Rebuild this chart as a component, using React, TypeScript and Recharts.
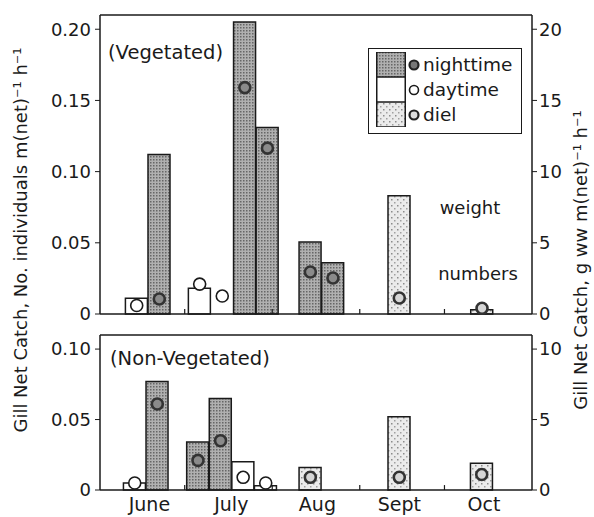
import { Bar, Cell, ComposedChart, Legend, ReferenceLine, Scatter, XAxis, YAxis } from 'recharts';

// x axis runs in days from 1 June to 1 November
const monthNames = ['June', 'July', 'Aug', 'Sept', 'Oct'];
const monthLabelDays = [17.5, 46.5, 77, 106, 136];
const monthStartDays = [30, 61, 92, 122];

const vegDays = [13, 21, 35.3, 43.3, 51.3, 59.3, 74.5, 82.5, 106, 135.3];
const vegTypes = ['day', 'night', 'day', 'day', 'night', 'night', 'night', 'night', 'diel', 'diel'];
const vegWeight = [1.1, 11.2, 1.8, 0, 20.5, 13.1, 5.05, 3.6, 8.3, 0.3];
const vegNumbers = [0.006, 0.0105, 0.021, 0.0126, 0.159, 0.1165, 0.0295, 0.0253, 0.0112, 0.004];

const nonVegDays = [12.3, 20.3, 34.7, 42.7, 50.7, 58.7, 74.5, 106, 135.2];
const nonVegTypes = ['day', 'night', 'night', 'night', 'day', 'day', 'diel', 'diel', 'diel'];
const nonVegWeight = [0.5, 7.7, 3.4, 6.5, 2.0, 0.3, 1.6, 5.2, 1.9];
const nonVegNumbers = [0.005, 0.061, 0.021, 0.035, 0.009, 0.005, 0.009, 0.009, 0.011];

const vegLeftTicks = [0, 0.05, 0.1, 0.15, 0.2];
const vegRightTicks = [0, 5, 10, 15, 20];
const nonVegLeftTicks = [0, 0.05, 0.1];
const nonVegRightTicks = [0, 5, 10];

const legendItems = [
    { type: 'night', label: 'nighttime' },
    { type: 'day', label: 'daytime' },
    { type: 'diel', label: 'diel' },
];

const ink = '#1a1a1a';

function buildRows(days: number[], types: string[], weight: number[], numbers: number[]) {
    return days.map((day, i) => ({ day, type: types[i], weight: weight[i], numbers: numbers[i] }));
}

const vegData = buildRows(vegDays, vegTypes, vegWeight, vegNumbers);
const nonVegData = buildRows(nonVegDays, nonVegTypes, nonVegWeight, nonVegNumbers);

function barFill(type: string) {
    if (type === 'night') return 'url(#nightDots)';
    if (type === 'diel') return 'url(#dielDots)';
    return '#ffffff';
}

function Dot(props: any) {
    const { cx, cy, payload } = props;
    if (cx == null || cy == null) return null;
    if (payload.type === 'day') {
        return <circle cx={cx} cy={cy} r={6} fill="#fff" stroke={ink} strokeWidth={1.6} />;
    }
    const fill = payload.type === 'night' ? '#8a8a8a' : '#d6d6d6';
    return <circle cx={cx} cy={cy} r={5.5} fill={fill} stroke="#333" strokeWidth={2.6} />;
}

function LegendDot({ type }: { type: string }) {
    if (type === 'day') return <circle cx={8} cy={13} r={4.5} fill="#fff" stroke={ink} strokeWidth={1.6} />;
    const fill = type === 'night' ? '#777' : '#ddd';
    return <circle cx={8} cy={13} r={4.5} fill={fill} stroke="#222" strokeWidth={2.2} />;
}

function Patterns() {
    return (
        <defs>
            <pattern id="nightDots" width="3" height="3" patternUnits="userSpaceOnUse">
                <rect width="3" height="3" fill="#b0b0b0" />
                <rect width="1.5" height="1.5" fill="#666666" />
            </pattern>
            <pattern id="dielDots" width="6" height="6" patternUnits="userSpaceOnUse">
                <rect width="6" height="6" fill="#ebebeb" />
                <rect x="1" y="1" width="1.5" height="1.5" fill="#8c8c8c" />
                <rect x="4" y="4" width="1.5" height="1.5" fill="#a0a0a0" />
            </pattern>
        </defs>
    );
}

function LegendBox() {
    return (
        <div
            style={{
                width: 154,
                height: 86,
                boxSizing: 'border-box',
                border: `1.5px solid ${ink}`,
                background: '#fff',
                padding: '3px 0 0 7px',
            }}
        >
            {legendItems.map((item) => (
                <div key={item.type} style={{ display: 'flex', alignItems: 'center', height: 25 }}>
                    <svg width={30} height={25} style={{ display: 'block' }}>
                        <rect x={0.75} y={0} width={28.5} height={25} fill={barFill(item.type)} stroke={ink} strokeWidth={1.5} />
                    </svg>
                    <svg width={16} height={25} style={{ display: 'block' }}>
                        <LegendDot type={item.type} />
                    </svg>
                    <span style={{ fontSize: 18.5, marginLeft: 1, lineHeight: '25px' }}>{item.label}</span>
                </div>
            ))}
        </div>
    );
}

function monthLabel(value: number) {
    const i = monthLabelDays.indexOf(value);
    return i >= 0 ? monthNames[i] : '';
}

const tickStyle = { fill: ink, fontSize: 18 };

export default function App() {
    return (
        <div
            style={{
                position: 'absolute',
                left: 0,
                top: 0,
                width: 594,
                height: 517,
                background: '#fff',
                fontFamily: '"DejaVu Sans", sans-serif',
                color: ink,
                overflow: 'hidden',
            }}
        >
            <div style={{ position: 'absolute', left: 0, top: 0 }}>
                <ComposedChart width={594} height={332} data={vegData} margin={{ top: 15, right: 0, bottom: 12, left: 0 }}>
                    <Patterns />
                    <XAxis
                        dataKey="day"
                        type="number"
                        domain={[0, 153]}
                        ticks={monthLabelDays}
                        tick={false}
                        tickLine={false}
                        height={6}
                        axisLine={{ stroke: ink, strokeWidth: 1.5 }}
                    />
                    <YAxis
                        yAxisId="left"
                        domain={[0, 0.21]}
                        ticks={vegLeftTicks}
                        interval={0}
                        tickFormatter={(v) => (v === 0 ? '0' : v.toFixed(2))}
                        width={100}
                        tickSize={5}
                        tickMargin={4}
                        tick={tickStyle}
                        axisLine={{ stroke: ink, strokeWidth: 1.5 }}
                        tickLine={{ stroke: ink }}
                    />
                    <YAxis
                        yAxisId="right"
                        orientation="right"
                        domain={[0, 21]}
                        ticks={vegRightTicks}
                        interval={0}
                        width={62}
                        tickSize={5}
                        tickMargin={2}
                        tick={tickStyle}
                        axisLine={{ stroke: ink, strokeWidth: 1.5 }}
                        tickLine={{ stroke: ink }}
                    />
                    <ReferenceLine yAxisId="left" y={0.21} stroke={ink} strokeWidth={1.5} />
                    {monthStartDays.map((d) => (
                        <ReferenceLine key={d} yAxisId="left" segment={[{ x: d, y: 0 }, { x: d, y: 0.0035 }]} stroke={ink} strokeWidth={1.2} />
                    ))}
                    <Bar yAxisId="right" dataKey="weight" barSize={22} stroke={ink} strokeWidth={1.5} isAnimationActive={false}>
                        {vegData.map((row, i) => (
                            <Cell key={i} fill={barFill(row.type)} />
                        ))}
                    </Bar>
                    <Scatter yAxisId="left" data={vegData} dataKey="numbers" shape={Dot} isAnimationActive={false} />
                    <Legend
                        layout="horizontal"
                        verticalAlign="middle"
                        align="center"
                        content={() => <LegendBox />}
                        wrapperStyle={{ left: 368, top: 48, width: 154, height: 86 }}
                    />
                </ComposedChart>
            </div>

            <div style={{ position: 'absolute', left: 0, top: 320 }}>
                <ComposedChart width={594} height={197} data={nonVegData} margin={{ top: 15, right: 0, bottom: 0, left: 0 }}>
                    <XAxis
                        dataKey="day"
                        type="number"
                        domain={[0, 153]}
                        ticks={monthLabelDays}
                        interval={0}
                        tickFormatter={monthLabel}
                        tickLine={false}
                        tick={{ fill: ink, fontSize: 19 }}
                        height={27}
                        axisLine={{ stroke: ink, strokeWidth: 1.5 }}
                    />
                    <YAxis
                        yAxisId="left"
                        domain={[0, 0.11]}
                        ticks={nonVegLeftTicks}
                        interval={0}
                        tickFormatter={(v) => (v === 0 ? '0' : v.toFixed(2))}
                        width={100}
                        tickSize={5}
                        tickMargin={4}
                        tick={tickStyle}
                        axisLine={{ stroke: ink, strokeWidth: 1.5 }}
                        tickLine={{ stroke: ink }}
                    />
                    <YAxis
                        yAxisId="right"
                        orientation="right"
                        domain={[0, 11]}
                        ticks={nonVegRightTicks}
                        interval={0}
                        width={62}
                        tickSize={5}
                        tickMargin={2}
                        tick={tickStyle}
                        axisLine={{ stroke: ink, strokeWidth: 1.5 }}
                        tickLine={{ stroke: ink }}
                    />
                    <ReferenceLine yAxisId="left" y={0.11} stroke={ink} strokeWidth={1.5} />
                    {monthStartDays.map((d) => (
                        <ReferenceLine key={d} yAxisId="left" segment={[{ x: d, y: 0 }, { x: d, y: 0.0035 }]} stroke={ink} strokeWidth={1.2} />
                    ))}
                    <Bar yAxisId="right" dataKey="weight" barSize={22} stroke={ink} strokeWidth={1.5} isAnimationActive={false}>
                        {nonVegData.map((row, i) => (
                            <Cell key={i} fill={barFill(row.type)} />
                        ))}
                    </Bar>
                    <Scatter yAxisId="left" data={nonVegData} dataKey="numbers" shape={Dot} isAnimationActive={false} />
                </ComposedChart>
            </div>

            {/* titles and notes */}
            <svg width={594} height={517} style={{ position: 'absolute', left: 0, top: 0, pointerEvents: 'none' }}>
                <g fill={ink} fontSize={18}>
                    <text x={108} y={52} dominantBaseline="central" fontSize={19.5}>(Vegetated)</text>
                    <text x={110} y={358} dominantBaseline="central" fontSize={19.5}>(Non-Vegetated)</text>
                    <text x={470} y={207} textAnchor="middle" dominantBaseline="central">weight</text>
                    <text x={478} y={273} textAnchor="middle" dominantBaseline="central">numbers</text>
                    <text transform="translate(20,240) rotate(-90)" textAnchor="middle" dominantBaseline="central">
                        Gill Net Catch, No. individuals m(net)⁻¹ h⁻¹
                    </text>
                    <text transform="translate(580,260) rotate(-90)" textAnchor="middle" dominantBaseline="central">
                        Gill Net Catch, g ww m(net)⁻¹ h⁻¹
                    </text>
                </g>
            </svg>
        </div>
    );
}
